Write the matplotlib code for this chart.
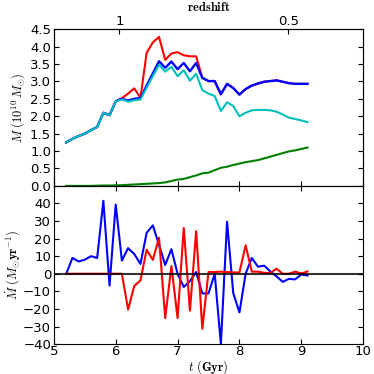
import numpy as np
import matplotlib
matplotlib.use('Agg')
import matplotlib.pyplot as plt

plt.rcParams['mathtext.fontset'] = 'cm'
plt.rcParams['xtick.direction'] = 'in'
plt.rcParams['ytick.direction'] = 'in'

t = [5.2, 5.3, 5.4, 5.5, 5.6, 5.7, 5.8, 5.9, 6.0, 6.1,
     6.2, 6.3, 6.4, 6.5, 6.6, 6.7, 6.8, 6.9, 7.0, 7.1,
     7.2, 7.3, 7.4, 7.5, 7.6, 7.7, 7.8, 7.9, 8.0, 8.1,
     8.2, 8.3, 8.4, 8.5, 8.6, 8.7, 8.8, 8.9, 9.0, 9.1]

# masses (10^10 Msun)
m_red = [1.25, 1.35, 1.43, 1.50, 1.60, 1.69, 2.10, 2.03, 2.43, 2.52,
         2.65, 2.80, 2.53, 3.82, 4.12, 4.28, 3.62, 3.80, 3.84, 3.75,
         3.72, 3.72, 3.11, 3.01, 3.01, 2.63, 2.93, 2.81, 2.62, 2.78,
         2.88, 2.94, 2.99, 3.01, 3.03, 2.99, 2.95, 2.93, 2.93, 2.93]
m_blue = [1.25, 1.35, 1.43, 1.50, 1.60, 1.69, 2.10, 2.03, 2.43, 2.50,
          2.45, 2.50, 2.52, 2.88, 3.23, 3.58, 3.39, 3.57, 3.35, 3.53,
          3.29, 3.53, 3.10, 3.01, 3.01, 2.63, 2.93, 2.81, 2.62, 2.78,
          2.88, 2.94, 2.99, 3.01, 3.03, 2.99, 2.95, 2.93, 2.93, 2.93]
m_cyan = [1.25, 1.35, 1.43, 1.50, 1.60, 1.69, 2.10, 2.03, 2.43, 2.48,
          2.42, 2.46, 2.48, 2.82, 3.15, 3.48, 3.28, 3.42, 3.15, 3.32,
          3.02, 3.22, 2.75, 2.65, 2.58, 2.15, 2.40, 2.29, 2.00, 2.10,
          2.17, 2.18, 2.18, 2.17, 2.13, 2.05, 1.96, 1.92, 1.88, 1.83]
m_green = [0.0, 0.0, 0.0, 0.0, 0.0, 0.005, 0.01, 0.01, 0.015, 0.02,
           0.03, 0.04, 0.05, 0.06, 0.07, 0.08, 0.10, 0.14, 0.18, 0.20,
           0.25, 0.30, 0.36, 0.38, 0.45, 0.52, 0.55, 0.60, 0.64, 0.68,
           0.71, 0.74, 0.79, 0.84, 0.89, 0.94, 0.99, 1.02, 1.06, 1.10]

# rates (Msun/yr)
r_blue = [0, 9, 7, 8, 10, 9, 41.5, -6.7, 39.4, 7.5,
          14.6, 11.2, 5.6, 23.3, 27.5, 16.5, 5, 14, 0, -7.5,
          -4.2, 1, -11.2, -11.2, 0, -40, 29.6, -11, -22, 0,
          9, 4, 4.6, 1.3, -1.5, -4.6, -2.9, -3.2, -0.4, -1]
r_red = [0, 0, 0, 0, 0, 0, 0, 0, 0, 0,
         -20.4, -6.9, -3.8, 13.7, 7.9, 20.5, -25.2, 4.4, -25.2, 26,
         -21, 24.2, -31.3, 1, 1, 1.2, 1, 0.8, 0.7, 16.2,
         1.2, 1.2, 0.5, 0.5, 2.9, 0, 0, 1.2, 0.2, 1.3]

z_ticks = [6.06, 8.79]
z_labels = ['1', '0.5']

fs_tick = 9.5
fs_lab = 9

fig = plt.figure(figsize=(3.74, 3.74), dpi=100)
ax1 = fig.add_axes([0.144, 0.503, 0.827, 0.419])
ax2 = fig.add_axes([0.144, 0.080, 0.827, 0.423], sharex=ax1)

ax1.plot(t, m_red, color='r', lw=1.5)
ax1.plot(t, m_blue, color='b', lw=1.7)
ax1.plot(t, m_cyan, color='c', lw=1.5)
ax1.plot(t, m_green, color='g', lw=1.5)
ax1.set_ylim(0, 4.5)
ax1.set_yticks(np.arange(0, 4.51, 0.5))
ax1.set_xlim(5, 10)
ax1.tick_params(labelbottom=False, labelsize=fs_tick, right=True, pad=2)
ax1.set_ylabel(r'$M\ (10^{10}\,M_{\odot})$', fontsize=fs_lab, labelpad=2)

top = ax1.twiny()
top.set_xlim(5, 10)
top.set_xticks(z_ticks)
top.set_xticklabels(z_labels)
top.tick_params(labelsize=fs_tick, pad=1)
top.set_xlabel(r'$\mathbf{redshift}$', fontsize=fs_lab, labelpad=3)

ax2.plot(t, r_blue, color='b', lw=1.5)
ax2.plot(t, r_red, color='r', lw=1.5)
ax2.axhline(0, color='k', lw=1.5, alpha=0.8)
ax2.set_ylim(-40, 50)
ax2.set_yticks(np.arange(-40, 41, 10))
ax2.set_xticks(np.arange(5, 11, 1))
ax2.tick_params(labelsize=fs_tick, top=True, right=True, pad=2)
ax2.tick_params(axis='x', pad=0.5)
ax2.set_ylabel(r'$\dot{M}\ (M_{\odot}\mathbf{yr}^{-1})$', fontsize=fs_lab, labelpad=1)
ax2.set_xlabel(r'$t\ (\mathbf{Gyr})$', fontsize=fs_lab, labelpad=0)

fig.savefig('out.png', dpi=100)
